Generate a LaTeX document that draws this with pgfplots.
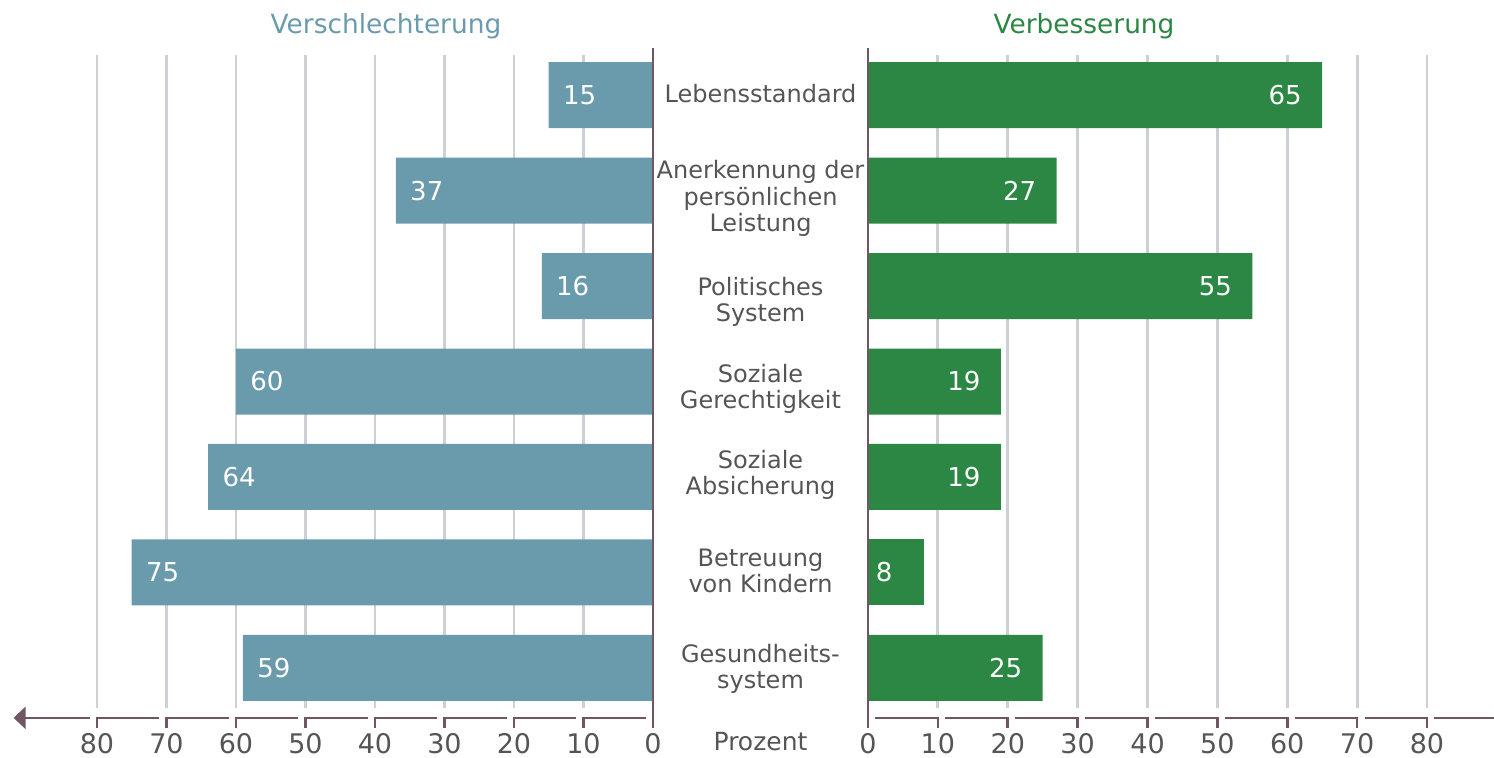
\documentclass[border=0pt]{standalone}
\usepackage{pgfplots}
\usepackage{pgfplotstable}
\pgfplotsset{compat=1.18}
\usetikzlibrary{arrows.meta}
\usepackage{fontspec}
\setmainfont{DejaVu Sans}
\definecolor{leftbar}{RGB}{106,155,173}
\definecolor{rightbar}{RGB}{43,135,67}
\definecolor{axcol}{RGB}{112,86,98}
\definecolor{gridcol}{RGB}{205,209,213}
\definecolor{txt}{RGB}{85,85,85}

\pgfplotstableread{
idx val
0 15
1 37
2 16
3 60
4 64
5 75
6 59
}\leftdata
\pgfplotstableread{
idx val
0 65
1 27
2 55
3 19
4 19
6 25
}\rightdata
\pgfplotstableread{
idx val
5 8
}\rightsmall

\tikzset{lbl/.style={font=\fontsize{13}{15}\selectfont, text=white, inner sep=0pt}}
\pgfplotsset{
 common/.style={
  scale only axis, height=326.5pt,
  xmin=0, xmax=80, ymin=-0.42, ymax=6.42, y dir=reverse,
  xtick={0,10,...,80}, ytick=\empty,
  xmajorgrids, grid style={gridcol, line width=1.4pt},
  axis line style={draw=none}, major tick length=0pt,
  xticklabel style={font=\fontsize{13.5}{16}\selectfont, text=txt, inner sep=0pt, anchor=north, yshift=-12.5pt},
  /pgf/number format/assume math mode=true,
  clip=false,
  xbar, bar width=33pt, bar shift=0pt,
 },
}

\begin{document}
\begin{tikzpicture}
\useasboundingbox (0,0) rectangle (747pt,-379pt);
% left axis
\begin{axis}[common, width=278pt, x dir=reverse, at={(48.5pt,-27.5pt)}, anchor=north west]
\addplot[fill=leftbar, draw=none, nodes near coords, nodes near coords style={lbl, anchor=west, xshift=7pt}] table[x=val, y=idx] {\leftdata};
\draw[axcol, line width=1.3pt] (axis cs:0,-0.493) -- (axis cs:0,6.627);
\pgfplotsinvokeforeach{10,20,30,40,50,60,70,80}{
 \draw[axcol, line width=1.3pt] (axis cs:#1,6.627) -- (axis cs:#1,6.523) -- ([xshift=31.25pt]axis cs:#1,6.523);
}
\draw[axcol, line width=1.3pt, -{Triangle[length=6pt,width=11pt]}] ([xshift=-3.5pt]axis cs:80,6.523) -- (axis cs:92,6.523);
\end{axis}
% right axis
\begin{axis}[common, width=279.5pt, at={(434pt,-27.5pt)}, anchor=north west]
\addplot[fill=rightbar, draw=none, nodes near coords, nodes near coords style={lbl, anchor=east, xshift=-10pt}] table[x=val, y=idx] {\rightdata};
\addplot[fill=rightbar, draw=none, nodes near coords, nodes near coords style={lbl, anchor=east, xshift=-15.5pt}] table[x=val, y=idx] {\rightsmall};
\draw[axcol, line width=1.3pt] (axis cs:0,-0.493) -- (axis cs:0,6.627);
\pgfplotsinvokeforeach{10,20,30,40,50,60,70,80}{
 \draw[axcol, line width=1.3pt] (axis cs:#1,6.627) -- (axis cs:#1,6.523) -- ([xshift=-31.25pt]axis cs:#1,6.523);
}
\draw[axcol, line width=1.3pt] ([xshift=3.5pt]axis cs:80,6.523) -- (axis cs:90,6.523);
\end{axis}
% titles
\node[anchor=base, font=\fontsize{13.2}{16}\selectfont, text=leftbar] at (193pt,-17pt) {Verschlechterung};
\node[anchor=base, font=\fontsize{13.2}{16}\selectfont, text=rightbar] at (542pt,-17pt) {Verbesserung};
% category labels
\begin{scope}[every node/.style={align=center, font=\fontsize{12}{13.25}\selectfont, text=txt}]
\node at (380.25pt,-47pt) {Lebensstandard};
\node at (380.25pt,-99.25pt) {Anerkennung der\\persönlichen\\Leistung};
\node at (380.25pt,-151pt) {Politisches\\System};
\node at (380.25pt,-194.5pt) {Soziale\\Gerechtigkeit};
\node at (380.25pt,-237.5pt) {Soziale\\Absicherung};
\node at (380.25pt,-285.5pt) {Betreuung\\von Kindern};
\node at (380.25pt,-334.5pt) {Gesundheits-\\system};
\node[font=\fontsize{12.5}{15}\selectfont] at (380.25pt,-371pt) {Prozent};
\end{scope}
\end{tikzpicture}
\end{document}
